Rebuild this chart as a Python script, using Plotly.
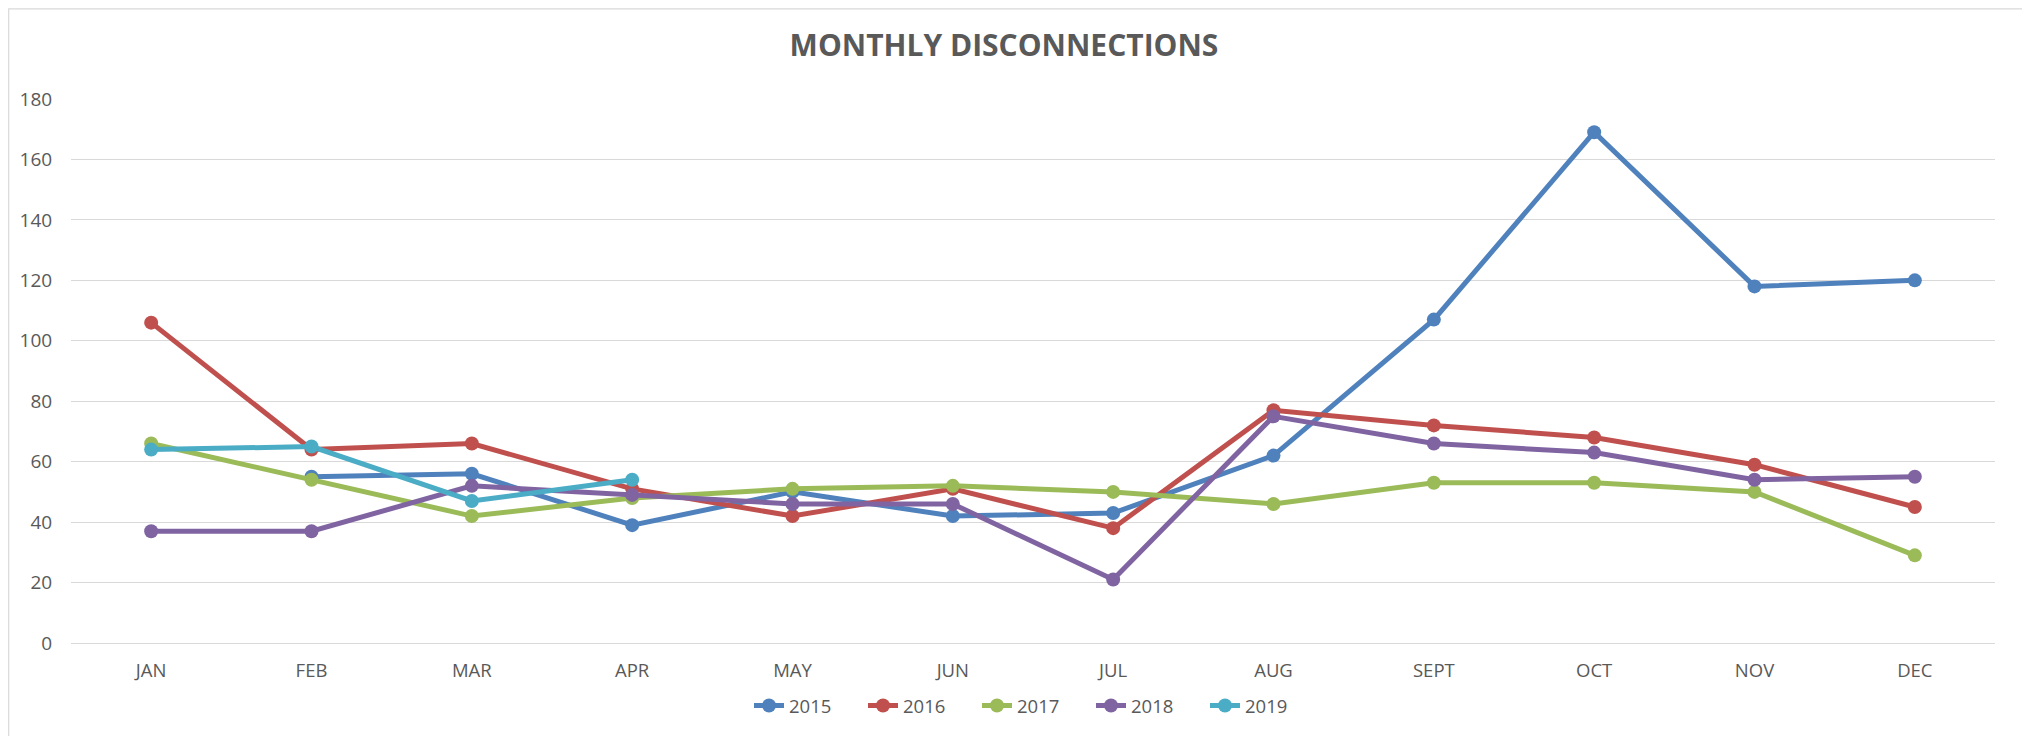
import plotly.graph_objects as go

months = ["JAN", "FEB", "MAR", "APR", "MAY", "JUN", "JUL", "AUG", "SEPT", "OCT", "NOV", "DEC"]
y2015 = [None, 55, 56, 39, 50, 42, 43, 62, 107, 169, 118, 120]
y2016 = [106, 64, 66, 51, 42, 51, 38, 77, 72, 68, 59, 45]
y2017 = [66, 54, 42, 48, 51, 52, 50, 46, 53, 53, 50, 29]
y2018 = [37, 37, 52, 49, 46, 46, 21, 75, 66, 63, 54, 55]
y2019 = [64, 65, 47, 54]
series_names = ["2015", "2016", "2017", "2018", "2019"]
series_values = [y2015, y2016, y2017, y2018, y2019]
colors = ["#4F81BD", "#C0504D", "#9BBB59", "#8064A2", "#4BACC6"]
y_ticks = [0, 20, 40, 60, 80, 100, 120, 140, 160, 180]

# the page body has an 8px default margin, so the figure is 8px smaller
OFF = 8
W, H = 2030 - OFF, 736 - OFF
ml, mr, mt, mb = 63, 35, 91, 92
pw, ph = W - ml - mr, H - mt - mb

def px_x(p):  # page pixel -> paper x
    return (p - OFF - ml) / pw

def px_y(p):  # page pixel -> paper y
    return (H - mb - (p - OFF)) / ph

fig = go.Figure()
for name, vals, col in zip(series_names, series_values, colors):
    fig.add_trace(go.Scatter(
        x=months[:len(vals)], y=vals, name=name, mode="lines+markers",
        line=dict(color=col, width=5),
        marker=dict(color=col, size=14),
    ))

fig.update_layout(
    width=W, height=H,
    margin=dict(l=ml, r=mr, t=mt, b=mb),
    paper_bgcolor="white", plot_bgcolor="white",
    font=dict(family="Open Sans, sans-serif", color="#595959", size=18),
    title=dict(text="<b>MONTHLY DISCONNECTIONS</b>", x=px_x(1004), xref="paper",
               xanchor="center", y=1 - (45 - OFF) / H, yref="container", yanchor="middle",
               font=dict(size=30, color="#595959")),
    xaxis=dict(type="category", categoryorder="array", categoryarray=months,
               range=[-0.5, 11.5], showgrid=False, showline=False, zeroline=False,
               ticks="outside", ticklen=11, tickcolor="rgba(0,0,0,0)",
               tickfont=dict(size=18.5)),
    yaxis=dict(range=[0, 180], tickvals=y_ticks, showgrid=True, gridcolor="#D9D9D9",
               gridwidth=1.4, zeroline=True, zerolinecolor="#D9D9D9", zerolinewidth=1.4,
               showline=False, ticks="outside", ticklen=14, tickcolor="rgba(0,0,0,0)",
               tickfont=dict(size=19)),
    legend=dict(orientation="h", x=px_x(749), xanchor="left", xref="paper",
                y=px_y(706), yanchor="middle", yref="paper",
                entrywidth=69, entrywidthmode="pixels",
                font=dict(size=18.5), tracegroupgap=0, bgcolor="rgba(0,0,0,0)"),
    showlegend=True,
)

fig.add_shape(type="rect", xref="paper", yref="paper",
              x0=px_x(OFF + 0.7), x1=px_x(2026), y0=px_y(745), y1=px_y(OFF + 0.7),
              line=dict(color="#D9D9D9", width=1.2), fillcolor="rgba(0,0,0,0)", layer="below")

fig.write_html("out.html")
